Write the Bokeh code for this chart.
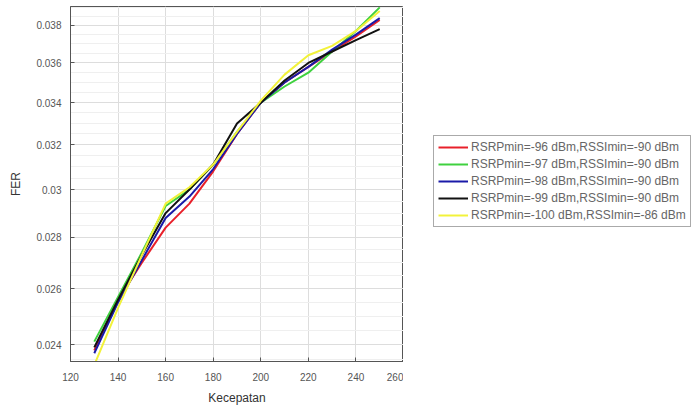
from bokeh.plotting import figure
from bokeh.layouts import row
from bokeh.models import FixedTicker, CustomJSTickFormatter, Legend, LegendItem, Range1d
from bokeh.embed import file_html
from bokeh.resources import INLINE
import numpy as np

speed = [130, 140, 150, 160, 170, 180, 190, 200, 210, 220, 230, 240, 250]
fer_96 = [0.0238, 0.0256, 0.0270, 0.0284, 0.0294, 0.0308, 0.0325, 0.0340, 0.0350, 0.0358, 0.0366, 0.0374, 0.0383]
fer_97 = [0.0241, 0.0257, 0.0274, 0.0293, 0.0300, 0.0311, 0.0326, 0.0340, 0.0348, 0.0355, 0.0366, 0.0377, 0.0390]
fer_98 = [0.0237, 0.0255, 0.0271, 0.0288, 0.0297, 0.0309, 0.0325, 0.0340, 0.0350, 0.0358, 0.0367, 0.0375, 0.0384]
fer_99 = [0.0239, 0.0256, 0.0273, 0.0290, 0.0300, 0.0311, 0.0330, 0.0340, 0.0351, 0.0360, 0.0366, 0.0372, 0.0378]
fer_100 = [0.0233, 0.0253, 0.0273, 0.0294, 0.0301, 0.0311, 0.0326, 0.0341, 0.0354, 0.0364, 0.0369, 0.0377, 0.0388]

labels = [
    "RSRPmin=-96 dBm,RSSImin=-90 dBm",
    "RSRPmin=-97 dBm,RSSImin=-90 dBm",
    "RSRPmin=-98 dBm,RSSImin=-90 dBm",
    "RSRPmin=-99 dBm,RSSImin=-90 dBm",
    "RSRPmin=-100 dBm,RSSImin=-86 dBm",
]
colors = ["#e8202a", "#3fd13f", "#1a1aa8", "#111111", "#f2f23a"]
series = [fer_96, fer_97, fer_98, fer_99, fer_100]

x_ticks = [120, 140, 160, 180, 200, 220, 240, 260]
y_ticks = [0.024, 0.026, 0.028, 0.030, 0.032, 0.034, 0.036, 0.038]
y_minor = [round(v, 4) for v in np.arange(0.0230, 0.0395, 0.0005)]

p = figure(width=403, height=407, y_axis_type="log",
           x_range=Range1d(120, 260), y_range=Range1d(0.02342, 0.03905),
           output_backend="svg", toolbar_location=None,
           min_border_left=70, min_border_right=0, min_border_top=6, min_border_bottom=45)

p.xaxis.ticker = FixedTicker(ticks=x_ticks)
p.yaxis.ticker = FixedTicker(ticks=y_ticks, minor_ticks=y_minor)
p.yaxis.formatter = CustomJSTickFormatter(code="return String(parseFloat(tick.toFixed(3)));")

for ax in (p.xaxis, p.yaxis):
    ax.major_label_text_font = "Liberation Sans"
    ax.major_label_text_font_size = "10px"
    ax.major_label_text_color = "#555555"
    ax.axis_label_text_font = "Liberation Sans"
    ax.axis_label_text_font_size = "12px"
    ax.axis_label_text_font_style = "normal"
    ax.axis_label_text_color = "#333333"
    ax.axis_line_color = "#555555"
    ax.major_tick_line_color = "#555555"
    ax.major_tick_in = 4
    ax.major_tick_out = 0
    ax.minor_tick_line_color = None

p.xaxis.axis_label = "Kecepatan"
p.yaxis.axis_label = "FER"
p.xaxis.major_label_standoff = 11
p.xaxis.axis_label_standoff = 7
p.yaxis.axis_label_standoff = 10

p.xgrid.grid_line_color = "#dddddd"
p.ygrid.grid_line_color = "#dddddd"
p.ygrid.minor_grid_line_color = "#efefef"

p.outline_line_color = "#555555"
p.outline_line_alpha = 1.0
p.background_fill_color = "white"

for ys, c in zip(series, colors):
    p.line(speed, ys, line_color=c, line_width=2)

# legend panel: same series drawn on a companion plot whose x-range excludes the data
q = figure(width=292, height=407, y_axis_type="log",
           x_range=Range1d(1000, 1001), y_range=Range1d(0.02342, 0.03905),
           output_backend="svg", toolbar_location=None,
           min_border_left=0, min_border_right=0, min_border_top=6, min_border_bottom=45)
q.axis.visible = False
q.grid.visible = False
q.outline_line_color = None

items = []
for ys, c, lab in zip(series, colors, labels):
    r = q.line(speed, ys, line_color=c, line_width=2)
    items.append(LegendItem(label=lab, renderers=[r]))

legend = Legend(items=items, location=(30, 134))
legend.label_text_font = "Liberation Sans"
legend.label_text_font_size = "12px"
legend.label_text_color = "#666666"
legend.glyph_width = 30
legend.glyph_height = 14
legend.label_height = 14
legend.spacing = 3
legend.padding = 4
legend.margin = 0
legend.border_line_color = "#555555"
legend.label_standoff = 3
q.add_layout(legend, "center")

layout = row(p, q)
open("out.html", "w").write(file_html(layout, INLINE))
